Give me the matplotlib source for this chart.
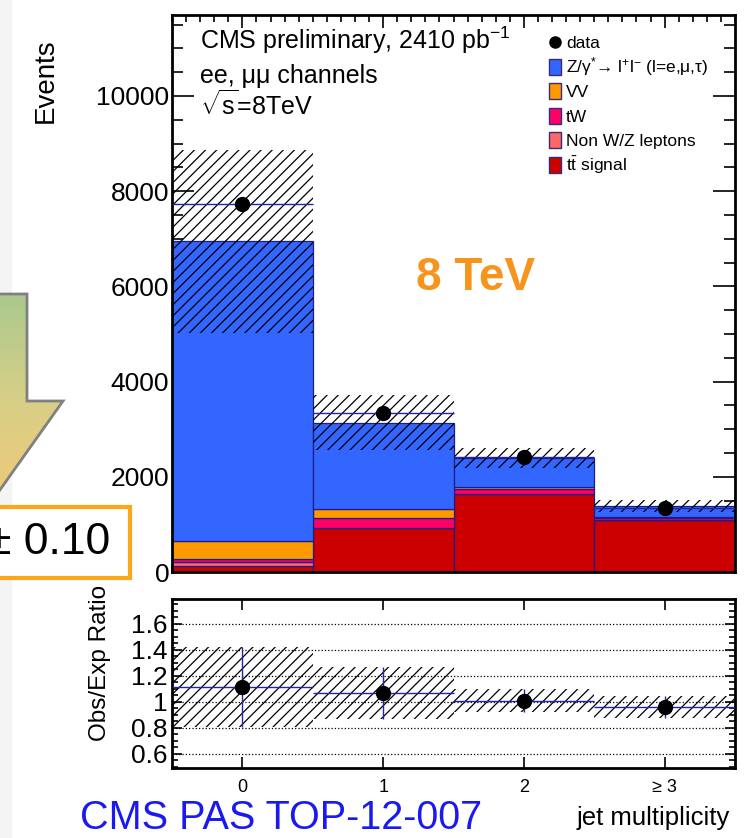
import numpy as np
import matplotlib
matplotlib.use("Agg")
import matplotlib.pyplot as plt
from matplotlib.patches import Rectangle, Polygon
from matplotlib.colors import LinearSegmentedColormap
from matplotlib.ticker import MultipleLocator, FixedLocator, FuncFormatter

plt.rcParams["font.family"] = ["Liberation Sans", "DejaVu Sans"]
plt.rcParams["mathtext.fontset"] = "custom"
plt.rcParams["mathtext.rm"] = "Liberation Sans"
plt.rcParams["mathtext.it"] = "Liberation Sans:italic"
plt.rcParams["mathtext.bf"] = "Liberation Sans:bold"
plt.rcParams["hatch.linewidth"] = 0.9

# jet multiplicity bins
jets = [0, 1, 2, 3]
jet_labels = ["0", "1", "2", "≥ 3"]

# expected events per process
dy = [6290, 1820, 610, 240]
vv = [380, 190, 40, 15]
tw = [60, 200, 105, 35]
nonwz = [90, 10, 5, 5]
ttbar = [125, 915, 1640, 1095]
mc_unc = [1915, 580, 210, 125]

# observed events
data = [7730, 3345, 2420, 1335]

W, H = 744, 838
fig = plt.figure(figsize=(W / 100, H / 100), dpi=100)

def px_axes(x0, y0, x1, y1):
    return fig.add_axes([x0 / W, 1 - y1 / H, (x1 - x0) / W, (y1 - y0) / H])

ax = px_axes(172, 15, 735, 572)
rax = px_axes(172, 599, 735, 768)

# stacked backgrounds + signal, bottom to top
stack = [
    ("tt signal", ttbar, "#cc0000"),
    ("Non W/Z", nonwz, "#ff6666"),
    ("tW", tw, "#ff0066"),
    ("VV", vv, "#ff9900"),
    ("DY", dy, "#3366ff"),
]
bottom = np.zeros(len(jets))
for name, vals, col in stack:
    ax.bar(jets, vals, width=1.0, bottom=bottom, color=col,
           edgecolor="#1c1c8c", linewidth=0.9, zorder=2)
    bottom = bottom + np.array(vals)
mc_total = bottom
unc = np.array(mc_unc)

ax.bar(jets, 2 * unc, bottom=mc_total - unc, width=1.0, facecolor="none",
       edgecolor="black", linewidth=0, hatch="///", zorder=3)
ax.errorbar(jets, data, xerr=0.5, fmt="o", color="black", ms=10,
            ecolor="#2424a8", elinewidth=1, capsize=0, zorder=5)

ax.set_xlim(-0.5, 3.5)
ax.set_ylim(0, 11700)
ax.xaxis.set_major_locator(FixedLocator(jets))
ax.xaxis.set_minor_locator(MultipleLocator(0.1))
ax.yaxis.set_major_locator(MultipleLocator(2000))
ax.yaxis.set_minor_locator(MultipleLocator(500))
ax.tick_params(which="both", direction="in", top=True, right=True, width=1.2)
ax.tick_params(axis="y", which="major", length=16, labelsize=19, pad=2)
ax.tick_params(axis="y", which="minor", length=8)
ax.tick_params(axis="x", which="major", length=9, labelbottom=False)
ax.tick_params(axis="x", which="minor", length=5)
for s in ax.spines.values():
    s.set_linewidth(2)

# ratio panel
data_arr = np.array(data, dtype=float)
ratio = data_arr / mc_total
ratio_err = ratio * unc / mc_total

rax.bar(jets, 2 * ratio_err, bottom=ratio - ratio_err, width=1.0,
        facecolor="none", edgecolor="black", linewidth=0, hatch="///", zorder=2)
rax.errorbar(jets, ratio, xerr=0.5, yerr=ratio_err, fmt="o", color="black",
             ms=10, ecolor="#2424a8", elinewidth=1, capsize=0, zorder=5)
rax.set_xlim(-0.5, 3.5)
rax.set_ylim(0.49, 1.79)
rax.xaxis.set_major_locator(FixedLocator(jets))
rax.set_xticklabels(jet_labels)
rax.yaxis.set_major_locator(MultipleLocator(0.2))
rax.yaxis.set_minor_locator(MultipleLocator(0.05))
rax.yaxis.set_major_formatter(FuncFormatter(lambda v, p: "%g" % round(v, 2)))
rax.grid(axis="y", which="major", color="black", linestyle=":", linewidth=0.9)
rax.tick_params(which="both", direction="in", top=True, right=True, width=1.2)
rax.tick_params(axis="y", which="major", length=7, labelsize=19, pad=3)
rax.tick_params(axis="y", which="minor", length=4)
rax.tick_params(axis="x", which="major", length=8, labelsize=13, pad=8)
for s in rax.spines.values():
    s.set_linewidth(2)

# pixel-space layer for labels, legend and annotations
ov = fig.add_axes([0, 0, 1, 1])
ov.set_xlim(0, W)
ov.set_ylim(H, 0)
ov.axis("off")

ov.add_patch(Rectangle((0, 0), 11, H, color="#f4f4f4", zorder=0))

ov.text(46, 38, "Events", rotation=90, ha="center", va="top", fontsize=20)
ov.text(100, 663, "Obs/Exp Ratio", rotation=90, ha="center", va="center", fontsize=17.5)

ov.text(200, 49, "CMS preliminary, 2410 pb$^{-1}$", fontsize=18, va="baseline")
ov.text(200, 83, "ee, μμ channels", fontsize=18, va="baseline")
ov.text(200, 115, r"$\sqrt{\mathrm{s}}$=8TeV", fontsize=18, va="baseline")

legend_rows = [
    ("data", None),
    (r"Z/γ$^{*}$→ l$^{+}$l$^{-}$ (l=e,μ,τ)", "#3366ff"),
    ("VV", "#ff9900"),
    ("tW", "#ff0066"),
    ("Non W/Z leptons", "#ff6666"),
    (r"t$\bar{\mathrm{t}}$ signal", "#cc0000"),
]
for i, (lab, col) in enumerate(legend_rows):
    yc = 42 + i * 24.6
    if col is None:
        ov.plot([555], [yc], "o", color="black", ms=8)
    else:
        ov.add_patch(Rectangle((549, yc - 8), 12, 16, facecolor=col,
                               edgecolor="#3a2a7a", linewidth=1))
    ov.text(566, yc + 6, lab, fontsize=12.5, va="baseline")

ov.text(476, 278, "8 TeV", color="#f7941d", fontsize=33, fontweight="bold",
        ha="center", va="center")

# gradient arrow pointing down at the box
arrow_pts = [(-57, 294), (27, 294), (27, 401), (63, 401), (-15, 511),
             (-93, 401), (-57, 401)]
clip = Polygon(arrow_pts, closed=True, facecolor="none", edgecolor="none")
ov.add_patch(clip)
grad = np.linspace(0, 1, 256).reshape(-1, 1)
cmap = LinearSegmentedColormap.from_list("arrowfill", ["#a9c98f", "#d9cf86", "#f3c874"])
im = ov.imshow(grad, extent=(-100, 80, 520, 290), cmap=cmap, aspect="auto", zorder=2)
im.set_clip_path(clip)
ov.add_patch(Polygon(arrow_pts, closed=True, facecolor="none",
                     edgecolor="#808080", linewidth=2, zorder=3))
ov.set_xlim(0, W)
ov.set_ylim(H, 0)

ov.add_patch(Rectangle((-10, 507), 140, 71, facecolor="white",
                       edgecolor="#f8a818", linewidth=3, zorder=4))
ov.text(110, 542, "± 0.10", fontsize=32, ha="right", va="center", zorder=5)

ov.text(80, 829, "CMS PAS TOP-12-007", color="#1a1aee", fontsize=28.5, va="baseline")
ov.text(730, 818, "jet multiplicity", fontsize=18.5, ha="right", va="center")

fig.savefig("out.png", dpi=100)
